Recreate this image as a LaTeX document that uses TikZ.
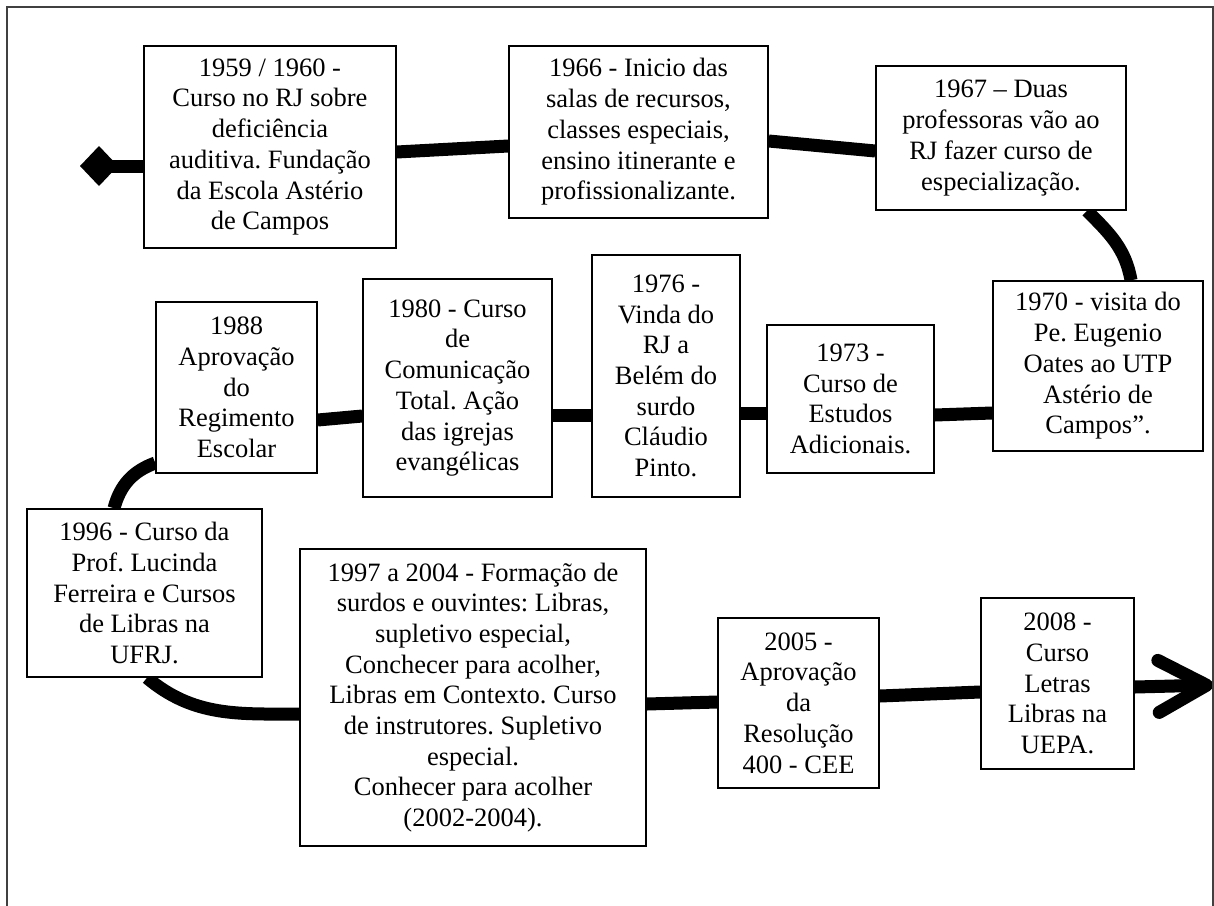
\documentclass[tikz,border=0pt]{standalone}
\usepackage{fontspec}
\setmainfont{Liberation Serif}
\usetikzlibrary{arrows.meta,backgrounds}
\frenchspacing

\begin{document}
\begin{tikzpicture}[x=0.5pt,y=0.5pt,
	evento/.style={draw, fill=white, line width=0.75pt, inner sep=0pt, align=center, font=\fontsize{13.25}{15.35}\selectfont},
	linha/.style={line width=6.5pt}]

	\useasboundingbox (0,0) rectangle (1214,-905);
	\draw[black!75, line width=0.6pt] (7,-7) rectangle (1213,-930);

	% linha de cima
	\node[evento, minimum width=126pt, minimum height=101pt] (b1959) at (270,-147) {1959 / 1960 -\\Curso no RJ sobre\\deficiência\\auditiva. Fundação\\da Escola Astério\\de Campos};
	\node[evento, minimum width=129.5pt, minimum height=86pt] (b1966) at (638.5,-132) {1966 - Inicio das\\salas de recursos,\\classes especiais,\\ensino itinerante e\\profissionalizante.};
	\node[evento, minimum width=125pt, minimum height=72pt] (b1967) at (1001,-138) {1967 – Duas\\professoras vão ao\\RJ fazer curso de\\especialização.};

	% linha do meio
	\node[evento, minimum width=105pt, minimum height=85pt] (b1970) at (1098,-366) {1970 - visita do\\Pe. Eugenio\\Oates ao UTP\\Astério de\\Campos”.};
	\node[evento, minimum width=83.5pt, minimum height=74pt] (b1973) at (850.5,-399) {1973 -\\Curso de\\Estudos\\Adicionais.};
	\node[evento, minimum width=74pt, minimum height=121pt] (b1976) at (666,-376) {1976 -\\Vinda do\\RJ a\\Belém do\\surdo\\Cláudio\\Pinto.};
	\node[evento, minimum width=94.5pt, minimum height=109pt] (b1980) at (457.5,-388) {1980 - Curso\\de\\Comunicação\\Total. Ação\\das igrejas\\evangélicas};
	\node[evento, minimum width=80.5pt, minimum height=85.5pt] (b1988) at (236.5,-387.5) {1988\\Aprovação\\do\\Regimento\\Escolar};

	% linha de baixo
	\node[evento, minimum width=117.5pt, minimum height=84pt] (b1996) at (144.5,-593) {1996 - Curso da\\Prof. Lucinda\\Ferreira e Cursos\\de Libras na\\UFRJ.};
	\node[evento, minimum width=173pt, minimum height=148.5pt] (b1997) at (473,-697.5) {1997 a 2004 - Formação de\\surdos e ouvintes: Libras,\\supletivo especial,\\Conchecer para acolher,\\Libras em Contexto. Curso\\de instrutores. Supletivo\\especial.\\Conhecer para acolher\\(2002-2004).};
	\node[evento, minimum width=80.5pt, minimum height=85pt] (b2005) at (798.5,-703) {2005 -\\Aprovação\\da\\Resolução\\400 - CEE};
	\node[evento, minimum width=76.5pt, minimum height=85.5pt] (b2008) at (1057.5,-683.5) {2008 -\\Curso\\Letras\\Libras na\\UEPA.};

	\coordinate (inicio) at (80,-166);
	\coordinate (fim) at (1213,-685);

	\begin{scope}[on background layer]
	\draw[linha, {Diamond[length=19pt,width=20pt]}-] (inicio) -- (inicio -| b1959.west);
	\draw[linha] ([yshift=-2.5pt]b1959.east) -- ([yshift=-7pt]b1966.west);
	\draw[linha] ([yshift=-4.5pt]b1966.east) -- ([yshift=-6.5pt]b1967.west);
	\draw[linha] ([xshift=43pt]b1967.south) to[out=-45,in=100] ([xshift=16.5pt]b1970.north);
	\draw[linha] ([yshift=-23.5pt]b1970.west) -- ([yshift=-8pt]b1973.east);
	\draw[linha] ([yshift=-7pt]b1973.west) -- ([yshift=-18.5pt]b1976.east);
	\draw[linha] ([yshift=-19.5pt]b1976.west) -- ([yshift=-13.5pt]b1980.east);
	\draw[linha] ([yshift=-14pt]b1980.west) -- ([yshift=-16.25pt]b1988.east);
	\draw[linha] ([yshift=-37.75pt]b1988.west) to[out=200,in=75] ([xshift=-15.25pt]b1996.north);
	\draw[linha] ([xshift=1.25pt]b1996.south) to[out=-40,in=180] ([yshift=-8.25pt]b1997.west);
	\draw[linha] ([yshift=-3.25pt]b1997.east) -- ([yshift=0.5pt]b2005.west);
	\draw[linha] ([yshift=3.5pt]b2005.east) -- ([yshift=-4.25pt]b2008.west);
	\draw[linha, -{Straight Barb[length=24pt,width=26pt,round]}] ([yshift=-1.75pt]b2008.east) -- (fim);
	\end{scope}

\end{tikzpicture}
\end{document}
